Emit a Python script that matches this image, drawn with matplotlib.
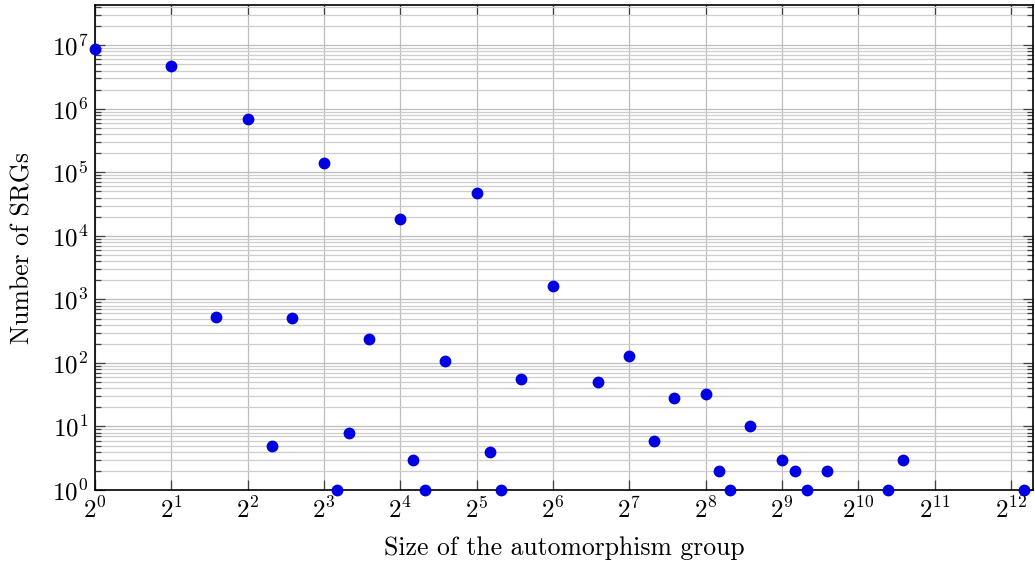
import matplotlib
matplotlib.use("Agg")
import matplotlib.pyplot as plt
from matplotlib.ticker import FixedLocator, FixedFormatter, LogLocator, NullFormatter, NullLocator

plt.rcParams['mathtext.fontset'] = 'cm'
plt.rcParams['font.family'] = ['cmr10', 'DejaVu Serif']
plt.rcParams['axes.formatter.use_mathtext'] = True

# Data
group_size = [1, 2, 3, 4, 5, 6, 8, 9, 10, 12, 16, 18, 20, 24, 32, 36, 40, 48,
              64, 96, 128, 160, 192, 256, 288, 320, 384, 512, 576, 640, 768,
              1344, 1536, 4608]
num_srgs = [8.8e6, 4.7e6, 536, 6.9e5, 5, 506, 1.41e5, 1, 8, 241, 1.87e4, 3, 1,
            107, 4.7e4, 4, 1, 55, 1633, 50, 130, 6, 28, 32, 2, 1, 10, 3, 2, 1,
            2, 1, 3, 1]

x_exponents = list(range(0, 13))
y_exponents = list(range(0, 8))
x_tick_labels = [r'$2^{%d}$' % k for k in x_exponents]
y_tick_labels = [r'$10^{%d}$' % k for k in y_exponents]

fig = plt.figure(figsize=(10.35, 5.68), dpi=100)
ax = fig.add_axes([95/1035, 78/568, (1033-95)/1035, (490-5)/568])

ax.set_xscale('log', base=2)
ax.set_yscale('log')
ax.set_xlim(1, 5000)
ax.set_ylim(1, 4.3e7)

ax.plot(group_size, num_srgs, 'o', color='#0000e0', markersize=8.5,
        markeredgewidth=0, clip_on=False, zorder=5)

ax.xaxis.set_major_locator(FixedLocator([2**k for k in x_exponents]))
ax.xaxis.set_major_formatter(FixedFormatter(x_tick_labels))
ax.xaxis.set_minor_locator(NullLocator())
ax.yaxis.set_major_locator(FixedLocator([10**k for k in y_exponents]))
ax.yaxis.set_major_formatter(FixedFormatter(y_tick_labels))
ax.yaxis.set_minor_locator(LogLocator(base=10, subs=range(2, 10), numticks=50))
ax.yaxis.set_minor_formatter(NullFormatter())

ax.grid(True, which='major', color='#bdbdbd', linewidth=0.9, zorder=0)
ax.grid(True, which='minor', axis='y', color='#cdcdcd', linewidth=0.9, zorder=0)
ax.set_axisbelow(True)

ax.tick_params(which='both', direction='in', top=True, right=True,
               color='#404040', width=0.9)
ax.tick_params(which='major', length=7, labelsize=18, pad=5)
ax.tick_params(which='minor', length=4)
for s in ax.spines.values():
    s.set_linewidth(1.2)
    s.set_color('black')

ax.set_xlabel('Size of the automorphism group', fontsize=18.5, labelpad=10)
ax.set_ylabel('Number of SRGs', fontsize=18.5, labelpad=12)

fig.savefig('out.png', dpi=100)
